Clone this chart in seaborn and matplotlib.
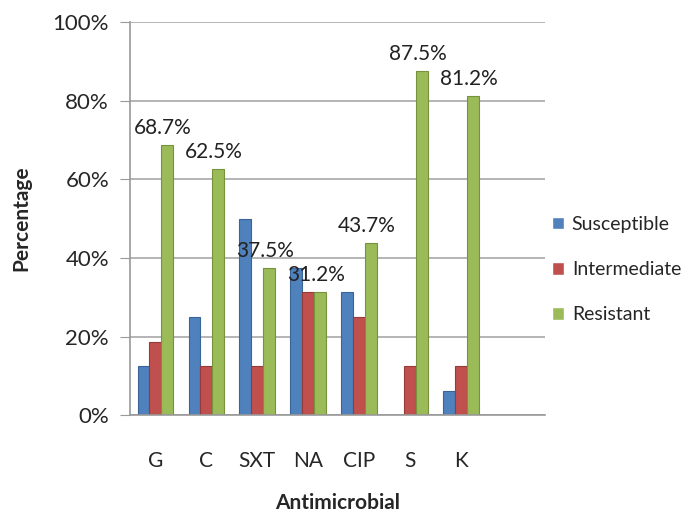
import matplotlib
matplotlib.use("Agg")
import matplotlib.pyplot as plt
import seaborn as sns
import pandas as pd

categories = ["G", "C", "SXT", "NA", "CIP", "S", "K"]
susceptible = [12.5, 25.0, 50.0, 37.5, 31.2, 0.0, 6.2]
intermediate = [18.7, 12.5, 12.5, 31.2, 25.0, 12.5, 12.5]
resistant = [68.7, 62.5, 37.5, 31.2, 43.7, 87.5, 81.2]
series = ["Susceptible", "Intermediate", "Resistant"]
colors = ["#4F81BD", "#C0504D", "#9BBB59"]
yticks = [0, 20, 40, 60, 80, 100]

rows = []
for name, vals in zip(series, [susceptible, intermediate, resistant]):
    for c, v in zip(categories, vals):
        rows.append({"Antimicrobial": c, "Series": name, "Value": v})
df = pd.DataFrame(rows)

sns.set_style("white")
plt.rcParams["font.family"] = ["Lato", "DejaVu Sans"]

fig = plt.figure(figsize=(6.91, 5.15), dpi=100)
ax = fig.add_axes([0.188, 0.194, 0.601, 0.763])

sns.barplot(data=df, x="Antimicrobial", y="Value", hue="Series",
            order=categories, hue_order=series, palette=colors,
            width=0.7, ax=ax, saturation=1, legend=True)

dark = {"Susceptible": "#3A6396", "Intermediate": "#953B39", "Resistant": "#76923C"}
for cont, name in zip(ax.containers, series):
    for p in cont:
        p.set_edgecolor(dark[name])
        p.set_linewidth(0.8)

res_cont = ax.containers[2]
for p, v in zip(res_cont, resistant):
    ax.text(p.get_x() + p.get_width() / 2 - 0.08, v + 1.8, f"{v}%",
            ha="center", va="bottom", fontsize=15, color="#222222")

ax.set_xlim(-0.5, 7.65)
ax.set_ylim(0, 100)
ax.set_yticks(yticks)
ax.set_yticklabels([f"{t}%" for t in yticks], fontsize=16)
ax.tick_params(axis="x", labelsize=15, length=0, pad=26)
ax.tick_params(axis="y", length=7, color="#999999", pad=8, left=True)
ax.yaxis.grid(True, color="#A8A8A8", linewidth=1.2)
ax.set_axisbelow(True)
for s in ["top", "right"]:
    ax.spines[s].set_visible(False)
ax.spines["left"].set_color("#999999")
ax.spines["bottom"].set_color("#999999")
ax.spines["left"].set_linewidth(1.2)
ax.spines["bottom"].set_linewidth(1.2)

ax.set_xlabel("Antimicrobial", fontsize=15, fontweight="bold", labelpad=16)
ax.set_ylabel("Percentage", fontsize=15, fontweight="bold", labelpad=15)

leg = ax.legend(loc="center left", bbox_to_anchor=(0.975, 0.37), frameon=False,
                fontsize=14, handlelength=0.6, handleheight=0.6,
                handletextpad=0.4, labelspacing=1.45)

fig.savefig("out.png", dpi=100)
